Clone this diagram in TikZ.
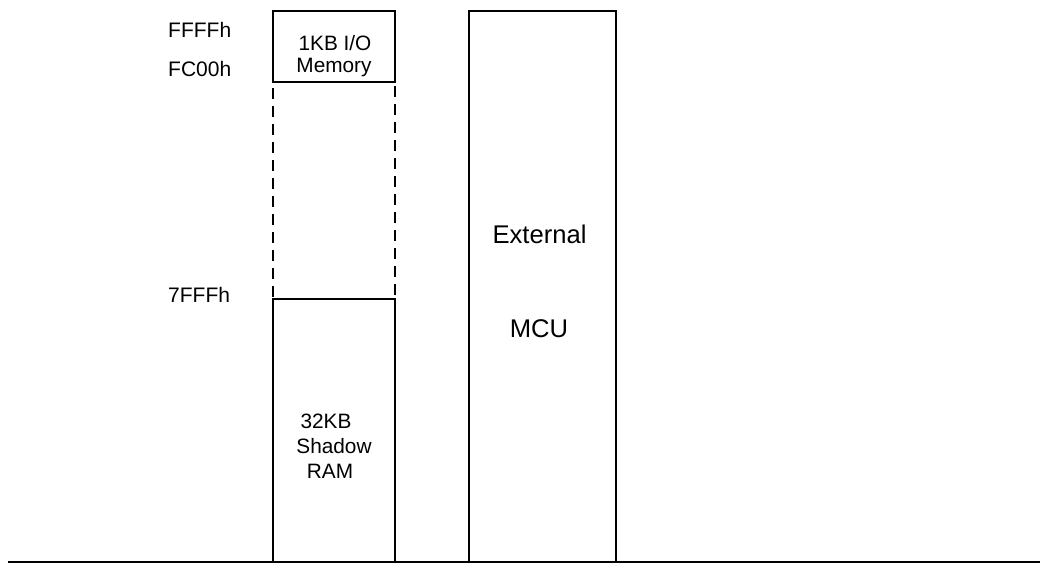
\documentclass[tikz,border=0pt]{standalone}
\usepackage{fontspec}
\setmainfont{Liberation Sans}
\begin{document}
\begin{tikzpicture}[x=1pt,y=-1pt,
  box/.style={draw, line width=2pt, rectangle, inner sep=0pt, outer sep=0pt},
  dbox/.style={draw, line width=2pt, rectangle, inner sep=0pt, outer sep=0pt, dash pattern=on 11pt off 7pt},
  small/.style={font=\fontsize{20.8}{22}\selectfont, inner sep=0pt, anchor=base},
  addr/.style={font=\fontsize{21}{22}\selectfont, inner sep=0pt, anchor=base west},
  big/.style={font=\fontsize{25.6}{28}\selectfont, inner sep=0pt, anchor=base}]
\useasboundingbox (0,0) rectangle (1040,563);
\node[dbox, minimum width=122pt, minimum height=217.5pt] (mid) at (334,190.25) {};
\node[box, fill=white, minimum width=122pt, minimum height=71pt] (io) at (334,46) {};
\node[box, fill=white, minimum width=122pt, minimum height=263pt] (ram) at (334,430.5) {};
\node[box, minimum width=146.5pt, minimum height=551.5pt] (mcu) at (542.25,286.25) {};
\coordinate (l) at (8,561.5);
\coordinate (r) at (1040,561.5);
\draw[line width=2pt] (l) -- (r);
\node[addr] (a1) at (168,37) {FFFFh};
\node[addr] (a2) at (168,76) {FC00h};
\node[addr] (a3) at (168,302) {7FFFh};
\node[small] (t1) at (335,50) {1KB I/O};
\node[small] (t2) at (334,72) {Memory};
\node[small] (t3) at (326,428) {32KB};
\node[small] (t4) at (334,453) {Shadow};
\node[small] (t5) at (330,478) {RAM};
\node[big] (e1) at (539.5,243) {External};
\node[big] (e2) at (539,337) {MCU};
\end{tikzpicture}
\end{document}
